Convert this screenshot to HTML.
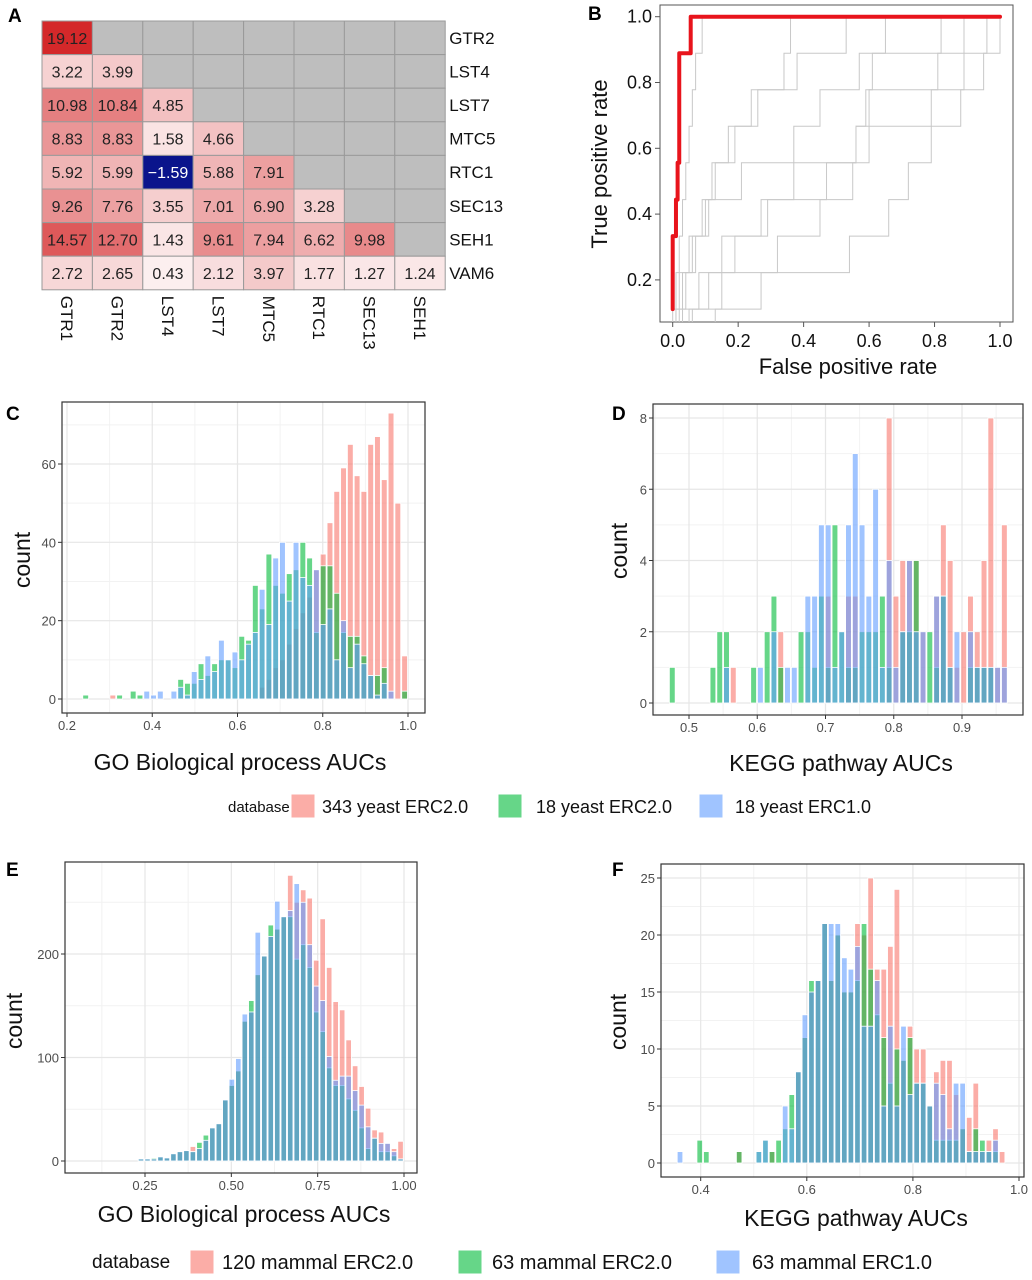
<!DOCTYPE html>
<html><head><meta charset="utf-8"><style>
body{margin:0;background:#fff}
svg{display:block;font-family:"Liberation Sans",Arial,sans-serif}
</style></head><body>
<svg id="fig" width="1032" height="1280" viewBox="0 0 1032 1280" xmlns="http://www.w3.org/2000/svg"></svg>
<script>
// ---------- Panel A data ----------
const hmCols = ["GTR1","GTR2","LST4","LST7","MTC5","RTC1","SEC13","SEH1"];
const hmRows = ["GTR2","LST4","LST7","MTC5","RTC1","SEC13","SEH1","VAM6"];
const hmVals = [
 [19.12],
 [3.22,3.99],
 [10.98,10.84,4.85],
 [8.83,8.83,1.58,4.66],
 [5.92,5.99,-1.59,5.88,7.91],
 [9.26,7.76,3.55,7.01,6.90,3.28],
 [14.57,12.70,1.43,9.61,7.94,6.62,9.98],
 [2.72,2.65,0.43,2.12,3.97,1.77,1.27,1.24]
];
// ---------- Panel B data (FPR at which each TPR level is reached) ----------
const rocLevels = [0.111,0.222,0.333,0.444,0.556,0.667,0.778,0.889,1.0];
const rocRed = [0,0,0,0.01,0.015,0.02,0.02,0.02,0.055];
const rocGray1 = [0,0.01,0.02,0.03,0.04,0.05,0.06,0.07,0.09];
const rocGray2 = [0.01,0.03,0.06,0.10,0.13,0.19,0.24,0.38,0.53];
const rocGray3 = [0.05,0.11,0.19,0.29,0.37,0.56,0.59,0.81,0.89];
const rocGray4 = [0.03,0.08,0.15,0.27,0.47,0.56,0.60,0.61,0.82];
const rocGray5 = [0.06,0.15,0.32,0.45,0.55,0.60,0.79,0.89,0.96];
const rocGray6 = [0.01,0.02,0.05,0.11,0.21,0.37,0.45,0.57,0.65];
const rocGray7 = [0.13,0.27,0.54,0.66,0.72,0.79,0.88,0.95,1.0];
const rocGray8 = [0.02,0.04,0.07,0.09,0.12,0.17,0.26,0.34,0.36];
const rocXTicks = [0,0.2,0.4,0.6,0.8,1.0];
const rocYTicks = [0.2,0.4,0.6,0.8,1.0];
// ---------- Panel C data ----------
const cStart = 0.2438, cWidth = 0.01592;
const cRed   = [0,0,0,0,1,0,0,0,0,0,0,0,0,0,0,0,0,0,0,0,0,0,0,0,0,0,3,5,8,10,14,18,22,26,33,37,45,53,59,65,57,53,65,67,56,73,50,11];
const cGreen = [1,0,0,0,0,1,0,2,1,0,0,0,0,0,5,4,4,9,6,9,10,10,8,16,15,29,23,37,29,27,32,33,40,36,17,34,34,27,17,16,16,11,6,6,8,0,0,2];
const cBlue  = [0,0,0,0,0,0,0,0,0,2,1,2,0,2,3,1,7,5,11,7,15,10,12,10,14,17,28,19,36,40,25,40,31,29,33,19,23,10,20,8,14,9,6,1,4,2,0,0];
const cXTicks = [0.2,0.4,0.6,0.8,1.0];
const cYTicks = [0,20,40,60];
// ---------- Panel D data ----------
const dStart = 0.4755, dWidth = 0.00993;
const dRed   = [0,0,0,0,0,0,0,0,0,1,0,0,0,0,0,0,2,0,0,0,0,0,0,3,0,0,3,3,0,0,0,0,8,3,4,4,4,2,0,3,5,4,1,2,3,2,4,8,1,5];
const dGreen = [1,0,0,0,0,0,1,2,2,0,0,0,1,0,2,3,1,0,0,2,2,1,3,1,5,2,1,1,2,2,2,3,1,0,2,2,4,0,2,1,3,1,0,0,1,1,1,1,0,0];
const dBlue  = [0,0,0,0,0,0,0,0,1,0,0,0,0,1,0,2,0,1,1,0,3,3,5,5,1,2,5,7,5,3,6,1,4,1,2,4,2,2,0,3,3,1,2,0,2,1,1,1,1,1];
const dXTicks = [0.5,0.6,0.7,0.8,0.9];
const dYTicks = [0,2,4,6,8];
// ---------- Panel E data ----------
const eStart = 0.2384, eWidth = 0.01879;
const eRed   = [2,2,2,4,3,7,9,10,14,12,20,32,36,59,73,87,135,144,180,198,217,224,236,276,250,262,254,194,234,187,154,146,117,92,72,51,30,28,17,12,19];
const eGreen = [2,2,3,4,3,7,9,10,9,18,25,32,36,59,73,87,135,155,180,198,228,224,236,236,195,209,187,144,125,90,73,73,60,49,32,12,22,9,9,5,2];
const eBlue  = [2,2,2,4,3,7,9,10,9,12,20,32,36,59,79,99,142,144,221,198,217,251,236,242,268,250,209,169,155,101,78,82,82,68,54,33,22,17,17,9,2];
const eXTicks = [0.25,0.50,0.75,1.00];
const eYTicks = [0,100,200];
// ---------- Panel F data ----------
const fStart = 0.361, fWidth = 0.01239;
const fRed   = [0,0,0,0,0,0,0,0,0,1,0,0,0,0,1,0,0,0,8,11,15,16,21,16,20,15,15,21,20,25,17,17,19,24,9,12,10,10,5,8,9,9,6,3,4,7,1,2,3,1];
const fGreen = [0,0,0,2,1,0,0,0,0,1,0,0,1,2,1,2,3,6,8,11,16,16,21,16,20,15,15,16,21,17,13,11,7,10,9,11,7,7,5,2,2,2,2,3,1,3,2,1,1,0];
const fBlue  = [1,0,0,0,0,0,0,0,0,0,0,0,1,2,0,0,5,3,8,13,15,16,21,21,21,18,17,19,12,12,16,5,12,5,12,6,7,7,5,7,6,3,7,7,1,1,1,1,2,0];
const fXTicks = [0.4,0.6,0.8,1.0];
const fYTicks = [0,5,10,15,20,25];

const NS = "http://www.w3.org/2000/svg";
const svg = document.getElementById("fig");
function mk(tag, attrs, parent){
  const e = document.createElementNS(NS, tag);
  for (const k in attrs) e.setAttribute(k, attrs[k]);
  (parent||svg).appendChild(e);
  return e;
}
function txt(s, attrs, parent){ const e = mk("text", attrs, parent); e.textContent = s; return e; }
function lin(d0,d1,r0,r1){ return v => r0 + (v-d0)/(d1-d0)*(r1-r0); }

// ---------- Panel A ----------
(function(){
  const g = mk("g", {});
  
  
  const L=42, T=21, W=50.4, H=33.6;
  const vmax = 19.12;
  function col(v){
    if (v < 0) return "#0a148c";
    const t = Math.min(1, v/vmax);
    const r = Math.round(253 - t*(253-212));
    const gg = Math.round(244 - t*(244-40));
    const b = Math.round(244 - t*(244-42));
    return `rgb(${r},${gg},${b})`;
  }
  hmRows.forEach((rn, ri) => {
    hmCols.forEach((cn, ci) => {
      const v = hmVals[ri][ci];
      const has = v !== undefined;
      const c = mk("rect", {x:L+ci*W, y:T+ri*H, width:W, height:H, fill: has?col(v):"#bebebe", stroke:"#9a9a9a", "stroke-width":1}, g);
      
      
      if (has){
        const t = txt(v<0 ? "\u2212"+Math.abs(v).toFixed(2) : v.toFixed(2), {x:L+ci*W+W/2, y:T+ri*H+H/2+6, "text-anchor":"middle", "font-size":16, fill: v<0?"#fff":"#222"}, g);
        
        
      }
    });
    const rl = txt(rn, {x:L+8*W+4, y:T+ri*H+H/2+6, "font-size":17, fill:"#111"}, g);
    
    
  });
  hmCols.forEach((cn, ci) => {
    const x = L+ci*W+W/2-6, y = T+8*H+6;
    const cl = txt(cn, {x:x, y:y, "font-size":17, fill:"#111", transform:`rotate(90 ${x} ${y})`}, g);
    
    
  });
})();

// ---------- Panel B ----------
(function(){
  const g = mk("g", {});
  
  
  const X = lin(0,1,672.7,1000), Y = lin(0,1,345.7,16.7);
  const pl=660, pr=1013, pt=5, pb=322;
  mk("rect",{x:pl,y:pt,width:pr-pl,height:pb-pt,fill:"#fff",stroke:"#555","stroke-width":1},g);
  function stepPath(f, startBottom){
    let d = startBottom ? `M${X(f[0])},${pb} V${Y(rocLevels[0])}` : `M${X(f[0])},${Y(rocLevels[0])}`;
    for (let k=1;k<f.length;k++) d += ` H${X(f[k])} V${Y(rocLevels[k])}`;
    d += ` H${X(1)}`;
    return d;
  }
  [rocGray1,rocGray2,rocGray3,rocGray4,rocGray5,rocGray6,rocGray7,rocGray8].forEach(c=>{
    const p = mk("path",{d:stepPath(c,true),fill:"none",stroke:"#c8c8c8","stroke-width":1},g);
    
    
  });
  const rp = mk("path",{d:stepPath(rocRed,false),fill:"none",stroke:"#e8141c","stroke-width":4,"stroke-linejoin":"round","stroke-linecap":"round"},g);
  
  
  rocXTicks.forEach(v=>{
    mk("line",{x1:X(v),x2:X(v),y1:pb,y2:pb+5,stroke:"#555"},g);
    const t = txt(v.toFixed(1),{x:X(v),y:pb+25,"text-anchor":"middle","font-size":18,fill:"#111"},g);
    
    
  });
  rocYTicks.forEach(v=>{
    mk("line",{x1:pl-5,x2:pl,y1:Y(v),y2:Y(v),stroke:"#555"},g);
    const t = txt(v.toFixed(1),{x:pl-8,y:Y(v)+6,"text-anchor":"end","font-size":18,fill:"#111"},g);
    
    
  });
  const xt = txt("False positive rate",{x:848,y:374,"text-anchor":"middle","font-size":22,fill:"#111"},g);
  
  
  const yt = txt("True positive rate",{x:607,y:164,"text-anchor":"middle","font-size":22,fill:"#111",transform:"rotate(-90 607 164)"},g);
  
  
})();

// ---------- Histogram helper ----------
function hist(cfg){
  const g = mk("g", {});
  
  
  const X = lin(cfg.xd[0],cfg.xd[1],cfg.xr[0],cfg.xr[1]);
  const Y = lin(cfg.yd[0],cfg.yd[1],cfg.yr[0],cfg.yr[1]);
  const {l,r,t,b} = cfg.box;
  mk("rect",{x:l,y:t,width:r-l,height:b-t,fill:"#fff"},g);
  const xs = cfg.xTicks, ys = cfg.yTicks;
  const dx = xs[1]-xs[0], dy = ys[1]-ys[0];
  for (let v = xs[0]-dx*1.5; v <= xs[xs.length-1]+dx; v += dx){
    const m = X(v);
    if (m>l && m<r) mk("line",{x1:m,x2:m,y1:t,y2:b,stroke:"#f2f2f2","stroke-width":1},g);
  }
  for (let v = ys[0]-dy/2; v <= ys[ys.length-1]+dy; v += dy){
    const m = Y(v);
    if (m>t && m<b) mk("line",{x1:l,x2:r,y1:m,y2:m,stroke:"#f2f2f2","stroke-width":1},g);
  }
  xs.forEach(v=>mk("line",{x1:X(v),x2:X(v),y1:t,y2:b,stroke:"#e6e6e6","stroke-width":1.2},g));
  ys.forEach(v=>mk("line",{x1:l,x2:r,y1:Y(v),y2:Y(v),stroke:"#e6e6e6","stroke-width":1.2},g));
  const bw = cfg.width*(cfg.xr[1]-cfg.xr[0])/(cfg.xd[1]-cfg.xd[0]);
  const series = [[cfg.R,"#F8766D","bar-red-series"],[cfg.G,"#00BA38","bar-green-series"],[cfg.B,"#619CFF","bar-blue-series"]];
  series.forEach(([arr,color,nm])=>{
    arr.forEach((v,i)=>{
      if (!v) return;
      const c = cfg.start + i*cfg.width;
      const rc = mk("rect",{x:X(c)-bw/2+0.5,y:Y(v),width:Math.max(1,bw-1),height:Y(0)-Y(v),fill:color,"fill-opacity":0.6,stroke:"#fff","stroke-width":0.8},g);
      
      
    });
  });
  mk("rect",{x:l,y:t,width:r-l,height:b-t,fill:"none",stroke:"#333","stroke-width":1.2},g);
  xs.forEach(v=>{
    mk("line",{x1:X(v),x2:X(v),y1:b,y2:b+4,stroke:"#333"},g);
    const tl = txt(v.toFixed(cfg.xDec),{x:X(v),y:b+17,"text-anchor":"middle","font-size":13,fill:"#4d4d4d"},g);
    
    
  });
  ys.forEach(v=>{
    mk("line",{x1:l-4,x2:l,y1:Y(v),y2:Y(v),stroke:"#333"},g);
    const tl = txt(String(v),{x:l-6,y:Y(v)+5,"text-anchor":"end","font-size":13,fill:"#4d4d4d"},g);
    
    
  });
  const xt = txt(cfg.xTitle,{x:cfg.xTitlePos[0],y:cfg.xTitlePos[1],"text-anchor":"middle","font-size":23,fill:"#111"},g);
  
  
  const [yx,yy] = cfg.yTitlePos;
  const yt = txt("count",{x:yx,y:yy,"text-anchor":"middle","font-size":23,fill:"#111",transform:`rotate(-90 ${yx} ${yy})`},g);
  
  
}

hist({name:"panel-c-histogram",xd:[0.2,1.0],xr:[67,408],yd:[0,60],yr:[699,464],box:{l:62,r:425,t:402,b:713},
  start:cStart,width:cWidth,R:cRed,G:cGreen,B:cBlue,xTicks:cXTicks,xDec:1,yTicks:cYTicks,
  xTitle:"GO Biological process AUCs",xTitlePos:[240,770],yTitlePos:[30,560]});
hist({name:"panel-d-histogram",xd:[0.5,0.9],xr:[689,962],yd:[0,8],yr:[703,418],box:{l:653,r:1023,t:404,b:715},
  start:dStart,width:dWidth,R:dRed,G:dGreen,B:dBlue,xTicks:dXTicks,xDec:1,yTicks:dYTicks,
  xTitle:"KEGG pathway AUCs",xTitlePos:[841,771],yTitlePos:[627,551]});
hist({name:"panel-e-histogram",xd:[0.25,1.0],xr:[145,404],yd:[0,200],yr:[1161,954],box:{l:65,r:417,t:862,b:1173},
  start:eStart,width:eWidth,R:eRed,G:eGreen,B:eBlue,xTicks:eXTicks,xDec:2,yTicks:eYTicks,
  xTitle:"GO Biological process AUCs",xTitlePos:[244,1222],yTitlePos:[22,1021]});
hist({name:"panel-f-histogram",xd:[0.4,1.0],xr:[700.7,1019],yd:[0,25],yr:[1163,878],box:{l:661,r:1024,t:864,b:1177},
  start:fStart,width:fWidth,R:fRed,G:fGreen,B:fBlue,xTicks:fXTicks,xDec:1,yTicks:fYTicks,
  xTitle:"KEGG pathway AUCs",xTitlePos:[856,1226],yTitlePos:[626,1022]});

// ---------- Panel letters ----------
[["A",8,22],["B",588,20],["C",6,420],["D",612,420],["E",6,876],["F",612,876]].forEach(([s,x,y])=>{
  const t = txt(s,{x:x,y:y,"font-size":19,"font-weight":"bold",fill:"#000"});
  
  
});

// ---------- Legends ----------
function legend(y, startX, fs, tfs, items){
  const g = mk("g", {});
  
  
  const t = txt("database",{x:startX,y:y+6,"font-size":tfs,fill:"#111"},g);
  
  
  items.forEach(([label,color,sx,tx])=>{
    const r = mk("rect",{x:sx,y:y-12,width:24,height:24,fill:color,"fill-opacity":0.6,stroke:"#fff"},g);
    
    
    const l = txt(label,{x:tx,y:y+7,"font-size":fs,fill:"#111"},g);
    
    
  });
}
legend(806, 228, 18, 15, [["343 yeast ERC2.0","#F8766D",291,322],["18 yeast ERC2.0","#00BA38",498,536],["18 yeast ERC1.0","#619CFF",699,735]]);
legend(1262, 92, 20, 19, [["120 mammal ERC2.0","#F8766D",190,222],["63 mammal ERC2.0","#00BA38",458,492],["63 mammal ERC1.0","#619CFF",716,752]]);
</script>
</body></html>
